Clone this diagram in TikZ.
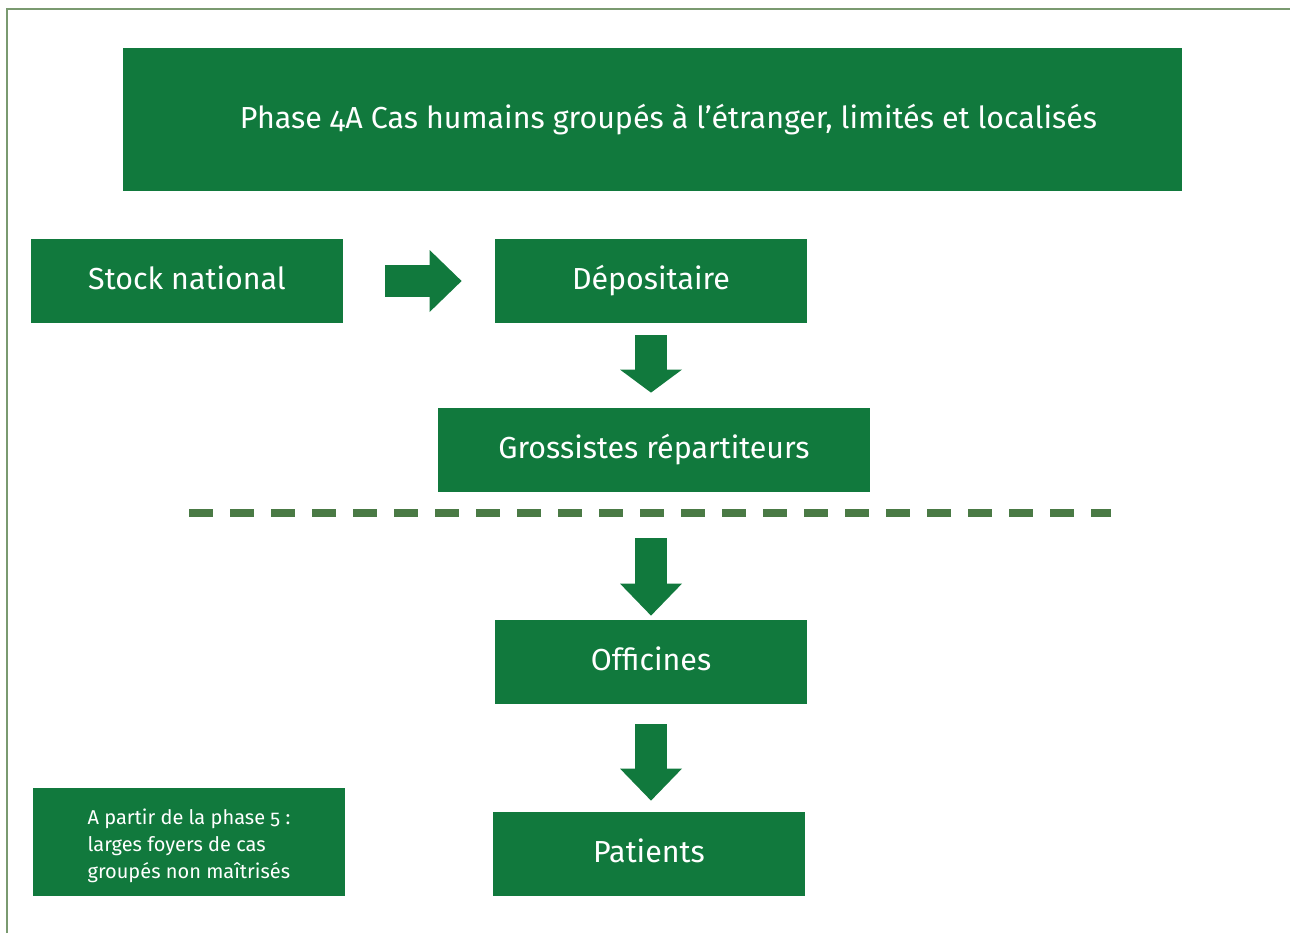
\documentclass[tikz,border=0pt]{standalone}
\usepackage{fontspec}
\setmainfont{Fira Sans}[Numbers=OldStyle]
\usetikzlibrary{arrows.meta}
\definecolor{vertbloc}{RGB}{17, 121, 61}
\definecolor{vertpointille}{RGB}{74, 122, 69}
\definecolor{vertcadre}{RGB}{122, 154, 112}

\begin{document}
\begin{tikzpicture}[x=0.5pt, y=-0.5pt,
      box/.style={fill=vertbloc, text=white, inner sep=0pt,
                  minimum width=156pt, minimum height=42pt,
                  text height=11pt, text depth=2.5pt,
                  font=\fontsize{15.2}{18}\selectfont},
      bigarr/.style={line width=16pt, color=vertbloc,
                  -{Triangle[length=16pt, width=31pt, line width=0pt]}},
      flatarr/.style={line width=16pt, color=vertbloc,
                  -{Triangle[length=11.5pt, width=31pt, line width=0pt]}}]
    \useasboundingbox (0,0) rectangle (1290,933);
    \draw[vertcadre, line width=1.2pt] (7,933) -- (7,9) -- (1290,9);
    \node[box, minimum width=529.5pt, minimum height=71.5pt] (phase) at (652.5,119.5)
          {\hspace*{16pt}Phase 4A Cas humains groupés à l’étranger, limités et localisés};
    \node[box] (stock) at (187,281) {Stock national};
    \node[box] (dep) at (651,281) {Dépositaire};
    \node[box, minimum width=216pt] (gross) at (654,450) {Grossistes répartiteurs};
    \node[box] (off) at (651,662) {Officines};
    \node[box] (pat) at (649,854) {Patients};
    \node[box, minimum height=54pt, align=left, text height=, text depth=,
          font=\fontsize{10}{13.5}\selectfont] (note) at (189,842)
          {\\[-1.5pt]A partir de la phase 5 :\\ larges foyers de cas\\ groupés non maîtrisés};
    % limite
    \coordinate (lg) at (189,513);
    \coordinate (ld) at (1111,513);
    \draw[vertpointille, line width=4pt, dash pattern=on 12pt off 8.5pt] (lg) -- (ld);
    \draw[bigarr, shorten <=21pt, shorten >=16.5pt] (stock.east) -- (dep.west);
    \draw[flatarr, shorten <=6pt, shorten >=7.5pt] (dep.south) -- (dep.south |- gross.north);
    \draw[bigarr, shorten <=23pt, shorten >=2pt] (off.north |- gross.south) -- (off.north);
    \draw[bigarr, shorten <=10pt, shorten >=5.5pt] (off.south) -- (off.south |- pat.north);
\end{tikzpicture}
\end{document}
